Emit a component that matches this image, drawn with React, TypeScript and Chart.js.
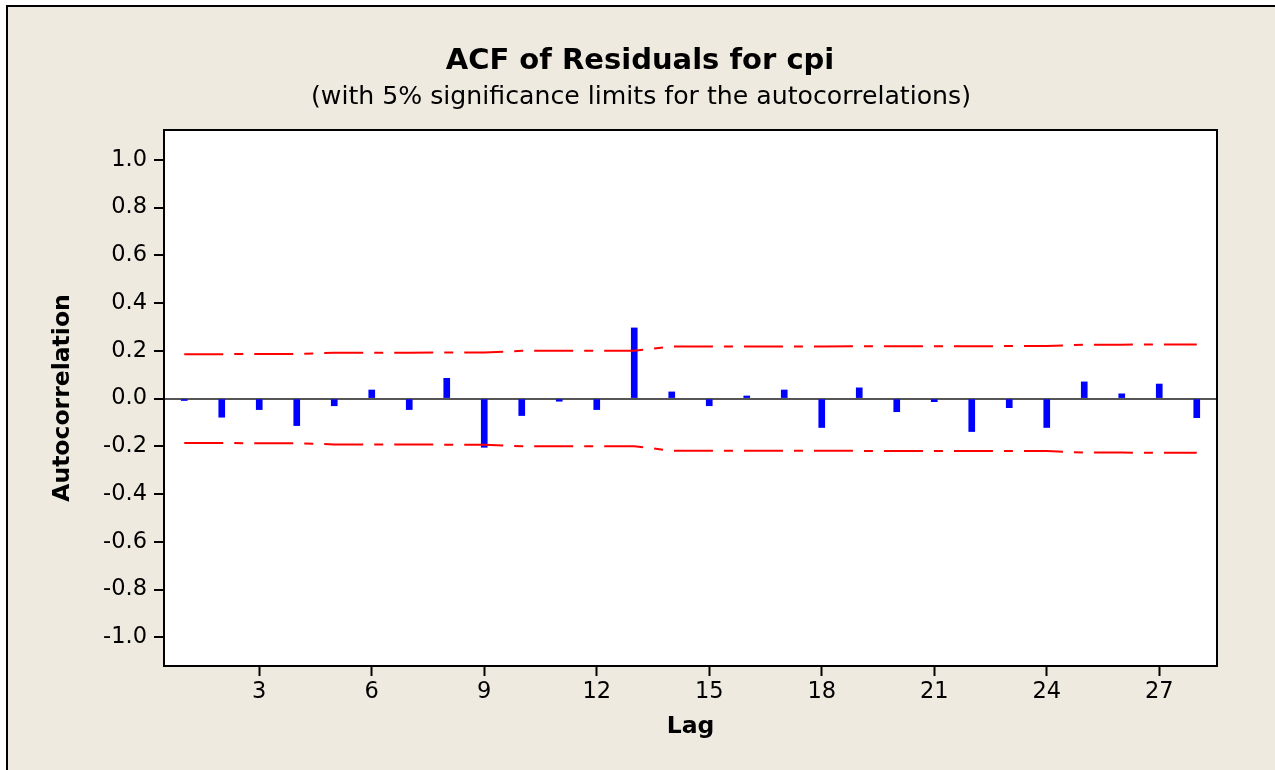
import { useEffect, useRef } from "react";
import { Chart, registerables } from "chart.js";

Chart.register(...registerables);

const titleText = "ACF of Residuals for cpi";
const subtitleText = "(with 5% significance limits for the autocorrelations)";
const xTitle = "Lag";
const yTitle = "Autocorrelation";

const lags = [1, 2, 3, 4, 5, 6, 7, 8, 9, 10, 11, 12, 13, 14, 15, 16, 17, 18, 19, 20, 21, 22, 23, 24, 25, 26, 27, 28];
const acf = [
  -0.008, -0.078, -0.046, -0.113, -0.03, 0.036, -0.046, 0.085, -0.204, -0.071,
  -0.011, -0.046, 0.296, 0.028, -0.03, 0.011, 0.036, -0.121, 0.045, -0.055,
  -0.013, -0.138, -0.038, -0.121, 0.07, 0.02, 0.061, -0.08,
];
const upperLimit = [
  0.186, 0.186, 0.187, 0.187, 0.192, 0.192, 0.192, 0.193, 0.193, 0.2,
  0.2, 0.2, 0.2, 0.218, 0.218, 0.218, 0.218, 0.218, 0.219, 0.219,
  0.219, 0.219, 0.22, 0.22, 0.226, 0.226, 0.227, 0.227,
];
const lowerLimit = [
  -0.186, -0.186, -0.187, -0.187, -0.192, -0.192, -0.192, -0.193, -0.193, -0.2,
  -0.2, -0.2, -0.2, -0.218, -0.218, -0.218, -0.218, -0.218, -0.219, -0.219,
  -0.219, -0.219, -0.22, -0.22, -0.226, -0.226, -0.227, -0.227,
];
const xTickValues = [3, 6, 9, 12, 15, 18, 21, 24, 27];
const yTickValues = [-1.0, -0.8, -0.6, -0.4, -0.2, 0.0, 0.2, 0.4, 0.6, 0.8, 1.0];

const FONT = "'DejaVu Sans', Verdana, sans-serif";
const BG = "#EEEAE0";

const framePlugin = {
  id: "frame",
  beforeDraw(chart: any) {
    const { ctx, width, height, chartArea } = chart;
    ctx.save();
    ctx.fillStyle = "#FFFFFF";
    ctx.fillRect(0, 0, width, height);
    ctx.fillStyle = BG;
    ctx.fillRect(7, 6, width - 7, height - 6);
    ctx.strokeStyle = "#000000";
    ctx.lineWidth = 2;
    ctx.beginPath();
    ctx.moveTo(7, height);
    ctx.lineTo(7, 6);
    ctx.lineTo(width, 6);
    ctx.stroke();
    ctx.fillStyle = "#FFFFFF";
    ctx.fillRect(chartArea.left, chartArea.top, chartArea.right - chartArea.left, chartArea.bottom - chartArea.top);
    ctx.restore();
  },
  afterDraw(chart: any) {
    const { ctx, chartArea } = chart;
    ctx.save();
    ctx.strokeStyle = "#000000";
    ctx.lineWidth = 2;
    ctx.strokeRect(chartArea.left, chartArea.top, chartArea.right - chartArea.left, chartArea.bottom - chartArea.top);
    ctx.fillStyle = "#000000";
    ctx.textAlign = "center";
    ctx.textBaseline = "alphabetic";
    ctx.font = `bold 29px ${FONT}`;
    ctx.fillText(titleText, 640, 69);
    ctx.font = `25.2px ${FONT}`;
    ctx.fillText(subtitleText, 641, 104);
    ctx.restore();
  },
};

export default function App() {
  const canvasRef = useRef<HTMLCanvasElement | null>(null);

  useEffect(() => {
    document.body.style.margin = "0";
    const canvas = canvasRef.current;
    if (!canvas) return;
    const chart = new Chart(canvas, {
      type: "bar",
      data: {
        datasets: [
          {
            type: "line",
            label: "Upper limit",
            data: lags.map((l, i) => ({ x: l, y: upperLimit[i] })),
            borderColor: "#FF0000",
            borderWidth: 2,
            borderDash: [39, 11, 9, 11],
            pointRadius: 0,
            tension: 0,
            fill: false,
            order: 1,
          } as any,
          {
            type: "line",
            label: "Lower limit",
            data: lags.map((l, i) => ({ x: l, y: lowerLimit[i] })),
            borderColor: "#FF0000",
            borderWidth: 2,
            borderDash: [39, 11, 9, 11],
            pointRadius: 0,
            tension: 0,
            fill: false,
            order: 1,
          } as any,
          {
            type: "bar",
            label: "ACF",
            data: lags.map((l, i) => ({ x: l, y: acf[i] })),
            backgroundColor: "#0000FF",
            borderWidth: 0,
            barThickness: 6,
            order: 2,
          } as any,
        ],
      },
      options: {
        animation: false,
        responsive: false,
        devicePixelRatio: 1,
        layout: { padding: { top: 130, right: 58, left: 0, bottom: 0 } },
        plugins: {
          legend: { display: false },
          tooltip: { enabled: false },
          title: { display: false },
        },
        scales: {
          x: {
            type: "linear",
            min: 0.46,
            max: 28.54,
            offset: false,
            afterFit: (s: any) => {
              s.height = 104;
            },
            afterBuildTicks: (s: any) => {
              s.ticks = xTickValues.map((v) => ({ value: v }));
            },
            ticks: {
              autoSkip: false,
              maxRotation: 0,
              padding: 3,
              color: "#000000",
              font: { family: FONT, size: 22.5 },
              callback: (v: any) => String(v),
            },
            grid: {
              offset: false,
              drawOnChartArea: false,
              drawTicks: true,
              tickLength: 10,
              tickColor: "#000000",
              tickWidth: 2,
              color: "#000000",
            },
            border: { display: true, color: "#000000", width: 2 },
            title: {
              display: true,
              text: xTitle,
              color: "#000000",
              font: { family: FONT, size: 23.5, weight: "bold" },
              padding: { top: 0, bottom: 29 },
            },
          },
          y: {
            type: "linear",
            min: -1.12,
            max: 1.125,
            afterFit: (s: any) => {
              s.width = 164;
            },
            afterBuildTicks: (s: any) => {
              s.ticks = yTickValues.map((v) => ({ value: v }));
            },
            ticks: {
              autoSkip: false,
              padding: 7,
              color: "#000000",
              font: { family: FONT, size: 22.5 },
              callback: (v: any) => Number(v).toFixed(1),
            },
            grid: {
              drawOnChartArea: true,
              drawTicks: true,
              tickLength: 10,
              tickColor: "#000000",
              tickWidth: 2,
              color: (c: any) => (c.tick && Math.abs(c.tick.value) < 1e-9 ? "#555555" : "rgba(0,0,0,0)"),
              lineWidth: 2,
            },
            border: { display: true, color: "#000000", width: 2 },
            title: {
              display: true,
              text: yTitle,
              color: "#000000",
              font: { family: FONT, size: 23.5, weight: "bold" },
              padding: { top: 49, bottom: 0 },
            },
          },
        },
      },
      plugins: [framePlugin],
    } as any);
    return () => {
      chart.destroy();
    };
  }, []);

  return (
    <div style={{ width: 1275, height: 770, overflow: "hidden" }}>
      <canvas ref={canvasRef} width={1275} height={770} style={{ display: "block" }} />
    </div>
  );
}
